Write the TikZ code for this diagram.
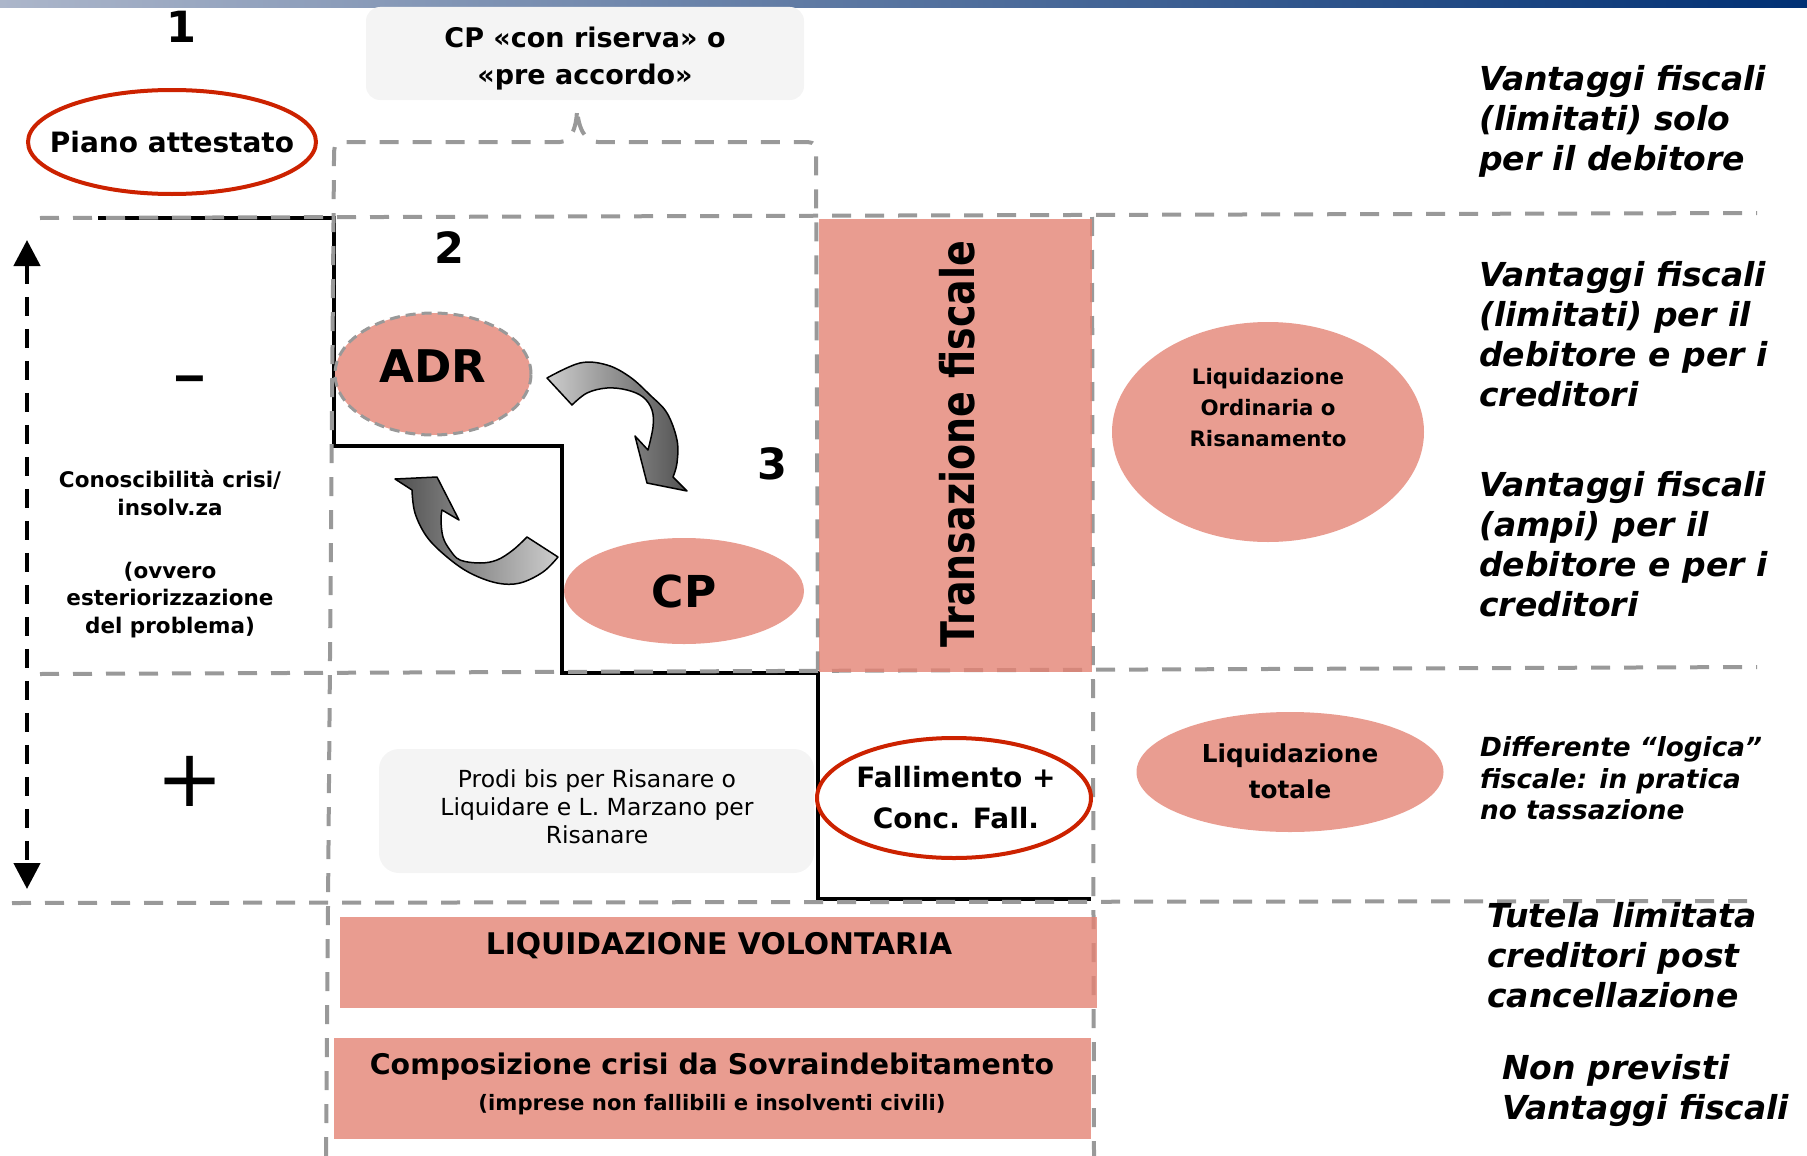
\documentclass[tikz,border=0pt]{standalone}
\usepackage{fontspec}
\setmainfont{DejaVu Sans}[BoldFont={DejaVu Sans Bold}, ItalicFont={DejaVu Sans Oblique}, BoldItalicFont={DejaVu Sans Bold Oblique}]
\usetikzlibrary{shapes.geometric, arrows.meta}

\definecolor{salmon}{RGB}{228,131,116}
\definecolor{salmonsolid}{RGB}{233,157,145}
\definecolor{ringred}{RGB}{204,34,0}
\definecolor{gridgray}{RGB}{153,153,153}
\definecolor{boxgray}{RGB}{244,244,244}
\definecolor{barlight}{RGB}{172,182,202}
\definecolor{barmid}{RGB}{60,92,145}
\definecolor{bardark}{RGB}{0,48,116}
\definecolor{arrowlight}{RGB}{205,205,205}
\definecolor{arrowdark}{RGB}{80,80,80}

\newcommand{\fs}[2]{\fontsize{#1}{#2}\selectfont}

\begin{document}
\begin{tikzpicture}[x=1pt,y=-1pt,
  grid/.style={draw=gridgray, line width=4pt, dash pattern=on 19pt off 14pt},
  stair/.style={draw=black, line width=3.5pt},
  salmonfill/.style={rectangle, fill=salmon, fill opacity=0.8, draw=none, inner sep=0pt},
  blob/.style={ellipse, fill=salmonsolid, inner sep=0pt},
  ring/.style={ellipse, draw=ringred, line width=4pt, fill=white, inner sep=0pt},
  lbl/.style={inner sep=0pt, align=center},
  sidenote/.style={inner sep=0pt, align=left, anchor=west, font=\bfseries\itshape\fs{33}{40}},
  softbox/.style={rectangle, fill=boxgray, draw=none, inner sep=0pt, align=center},
  curvedarrow/.style={draw=black, line width=1.5pt, line join=round},
]
\useasboundingbox (0,0) rectangle (1807,1156);

% title band
\shade[left color=barlight, middle color=barmid, right color=bardark] (0,0) rectangle (1807,8);

% light grey boxes
\node[softbox, rounded corners=14pt, minimum width=438pt, minimum height=93pt] (cpbox) at (585,53.5) {};
\node[lbl, font=\bfseries\fs{27}{37}] (cptxt) at (585,59) {CP «con riserva» o\\«pre accordo»};
\node[softbox, rounded corners=20pt, minimum width=435pt, minimum height=124pt] (prodi) at (596.5,811) {};
\node[lbl, font=\fs{23.5}{28}] (proditxt) at (597,807) {Prodi bis per Risanare o\\Liquidare e L. Marzano per\\Risanare};

% staircase
\draw[stair] (98,218) -- (334,218) -- (334,446) -- (562,446) -- (562,673)
  -- (818,673) -- (818,899) -- (1091,899);

% dashed grid
\draw[grid] (40,218) -- (1757,213);
\draw[grid] (40,674) -- (1757,667);
\draw[grid] (12,903) -- (1757,901);
\draw[grid] (1092,217) -- (1094,1156);
\draw[grid] (326,1156) -- (334,160) .. controls (334,142) .. (352,142) -- (560,142)
  .. controls (572,142) and (577,125) .. (577,108)
  .. controls (578,128) and (585,142) .. (598,142) -- (800,142)
  .. controls (816,142) .. (816,160) -- (818,672);

% vertical axis
\coordinate (axtop) at (27,240);
\coordinate (axbot) at (27,889);
\draw[line width=4.5pt, dash pattern=on 19pt off 13pt,
  {Triangle[length=26pt,width=26pt]}-{Triangle[length=26pt,width=26pt]}] (axtop) -- (axbot);

% salmon bands
\node[salmonfill, rotate=90, minimum width=453pt, minimum height=273pt] (tf) at (955.5,445.5) {};
\node[lbl, rotate=90, font=\bfseries\fs{38}{38}] (tftxt) at (957,444) {\scalebox{1}[1.22]{Transazione fiscale}};
\node[salmonfill, minimum width=757pt, minimum height=91pt] (lv) at (718.5,962.5) {};
\node[lbl, font=\bfseries\fs{29.8}{30}] (lvtxt) at (719,946) {LIQUIDAZIONE VOLONTARIA};
\node[salmonfill, minimum width=757pt, minimum height=101pt] (cs) at (712.5,1088.5) {};
\node[lbl, font=\bfseries\fs{24}{36}] (cstxt) at (712,1084)
  {{\fs{28.4}{36}Composizione crisi da Sovraindebitamento}\\{\fs{21.2}{36}(imprese non fallibili e insolventi civili)}};

% ellipses
\node[blob, draw=gridgray, line width=3pt, dash pattern=on 10pt off 6pt,
      minimum width=196pt, minimum height=122pt] (adr) at (433,374) {};
\node[lbl, font=\bfseries\fs{45}{45}] (adrtxt) at (433,366) {ADR};
\node[blob, minimum width=240pt, minimum height=106pt, font=\bfseries\fs{44}{44}] (cp) at (684,591) {CP};
\node[blob, minimum width=312pt, minimum height=220pt] (lo) at (1268,432) {};
\node[lbl, font=\bfseries\fs{21.3}{31}] (lotxt) at (1268,408) {Liquidazione\\Ordinaria o\\Risanamento};
\node[blob, minimum width=307pt, minimum height=120pt] (lt) at (1290,772) {};
\node[lbl, font=\bfseries\fs{24.7}{36}] (lttxt) at (1290,771) {Liquidazione\\totale};
\node[ring, minimum width=288pt, minimum height=104pt] (piano) at (172,142) {};
\node[lbl, font=\bfseries\fs{28}{28}] (pianotxt) at (172,142) {Piano attestato};
\node[ring, minimum width=274pt, minimum height=120pt] (fall) at (954,798) {};
\node[lbl, font=\bfseries\fs{28}{41}] (falltxt) at (956,798) {Fallimento +\\Conc. Fall.};

% curved arrows between ADR and CP
\shadedraw[curvedarrow, left color=arrowlight, right color=arrowdark]
  plot[smooth, tension=0.6] coordinates {(547,378) (580,363) (607,365) (630,377) (650,395) (667,413) (677,440) (677,463) (673,477)}
  -- (687,491) -- (647,483) -- (635,436)
  -- plot[smooth, tension=0.6] coordinates {(648,450) (653,427) (652,410) (643,397) (627,390) (607,388) (587,393) (572,405)}
  -- cycle;
\shadedraw[curvedarrow, left color=arrowdark, right color=arrowlight]
  plot[smooth, tension=0.6] coordinates {(527,537) (513,550) (497,560) (480,563) (460,560) (450,550) (443,537) (441,520) (442,510)}
  -- (459,520) -- (437,477) -- (395,479)
  -- plot[smooth, tension=0.6] coordinates {(412,490) (415,513) (427,537) (447,557) (470,573) (497,583) (520,583) (543,572) (558,557)}
  -- cycle;

% step numbers
\node[lbl, font=\bfseries\fs{43}{43}] (n1) at (181,27) {1};
\node[lbl, font=\bfseries\fs{43}{43}] (n2) at (449,248) {2};
\node[lbl, font=\bfseries\fs{43}{43}] (n3) at (772,464) {3};

% left column
\node[lbl, font=\fs{60}{60}] (minus) at (190,387) {\scalebox{1.7}[1.2]{-}};
\node[lbl, font=\fs{80}{80}] (plus) at (190,781) {+};
\node[lbl, font=\bfseries\fs{21.5}{28}] (know) at (170,493) {Conoscibilità crisi/\\insolv.za};
\node[lbl, font=\bfseries\fs{21.5}{27.5}] (ovvero) at (170,600) {(ovvero\\esteriorizzazione\\del problema)};

% right column notes
\node[sidenote] (r1) at (1479,121) {Vantaggi fiscali\\(limitati) solo\\per il debitore};
\node[sidenote] (r2) at (1479,334) {Vantaggi fiscali\\(limitati) per il\\debitore e per i\\creditori};
\node[sidenote] (r3) at (1479,544) {Vantaggi fiscali\\(ampi) per il\\debitore e per i\\creditori};
\node[sidenote, font=\bfseries\itshape\fs{26.3}{31.5}] (r4) at (1480,778.5) {Differente “logica”\\fiscale: in pratica\\no tassazione};
\node[sidenote] (r5) at (1487,955) {Tutela limitata\\creditori post\\cancellazione};
\node[sidenote] (r6) at (1502,1091) {Non previsti\\Vantaggi fiscali};
\end{tikzpicture}
\end{document}
